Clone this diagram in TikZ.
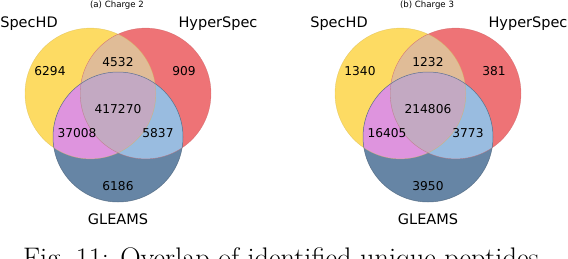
\documentclass[tikz,border=0pt]{standalone}
\usepackage{fontspec}
\newfontfamily\plotfont{DejaVu Sans}
\usepackage{tikz}
\usetikzlibrary{calc}

\definecolor{specA}{HTML}{FDDB63}
\definecolor{hypB}{HTML}{EE7376}
\definecolor{gleC}{HTML}{6685A5}
\definecolor{regAB}{HTML}{E0BC97}
\definecolor{regAC}{HTML}{DE94DE}
\definecolor{regBC}{HTML}{99BCE0}
\definecolor{regABC}{HTML}{C3A9C2}

\tikzset{
    setlabel/.style={font=\plotfont\fontsize{14.5}{16}\selectfont, inner sep=0pt},
    count/.style={font=\plotfont\fontsize{12.2}{14}\selectfont, inner sep=0pt},
    subtitle/.style={font=\plotfont\fontsize{8.6}{10}\selectfont, inner sep=0pt},
}

\begin{document}
\begin{tikzpicture}[x=1pt, y=-1pt, line join=round]
    \useasboundingbox (0,0) rectangle (568,258);
    \foreach \dx/\sub/\ch/\na/\nb/\nc/\nab/\nac/\nbc/\nabc in
        {0/a/2/6294/909/6186/4532/37008/5837/417270,
         310/b/3/1340/381/3950/1232/16405/3773/214806}{
    \begin{scope}[xshift=\dx]
        \coordinate (A) at (90.4,93.5);
        \coordinate (B) at (145.6,93.5);
        \coordinate (C) at (118,137);
        % einzelne Mengen
        \fill[specA] (A) circle[radius=65.4pt];
        \fill[hypB] (B) circle[radius=65.4pt];
        \fill[gleC] (C) circle[radius=65pt];
        % Schnittmengen
        \begin{scope}
            \clip (A) circle[radius=65.4pt];
            \fill[regAB] (B) circle[radius=65.4pt];
            \fill[regAC] (C) circle[radius=65pt];
        \end{scope}
        \begin{scope}
            \clip (B) circle[radius=65.4pt];
            \fill[regBC] (C) circle[radius=65pt];
            \clip (A) circle[radius=65.4pt];
            \fill[regABC] (C) circle[radius=65pt];
        \end{scope}
        \draw[specA!85!black, line width=0.4pt, opacity=0.6] (A) circle[radius=65.4pt];
        \draw[hypB!85!black, line width=0.4pt, opacity=0.6] (B) circle[radius=65.4pt];
        \draw[gleC!75!black, line width=0.5pt, opacity=0.8] (C) circle[radius=65pt];
        % Beschriftung
        \node[subtitle] (title\sub) at (117,5) {(\sub) Charge \ch};
        \node[setlabel] (spec\sub) at (29,24) {SpecHD};
        \node[setlabel] (hyper\sub) at (218,24) {HyperSpec};
        \node[setlabel] (gleams\sub) at (118,219) {GLEAMS};
        \node[count] (na\sub) at (50,71) {\na};
        \node[count] (nb\sub) at (184,71) {\nb};
        \node[count] (nab\sub) at (118,62) {\nab};
        \node[count] (nabc\sub) at (118,109) {\nabc};
        \node[count] (nac\sub) at (77,133) {\nac};
        \node[count] (nbc\sub) at (158,133) {\nbc};
        \node[count] (nc\sub) at (118,186) {\nc};
    \end{scope}
    }
    \node[anchor=base west, inner sep=0pt, font=\fontsize{28.3}{32}\selectfont] (caption) at (23,267)
        {Fig.~11: Overlap of identified unique peptides};
\end{tikzpicture}
\end{document}
